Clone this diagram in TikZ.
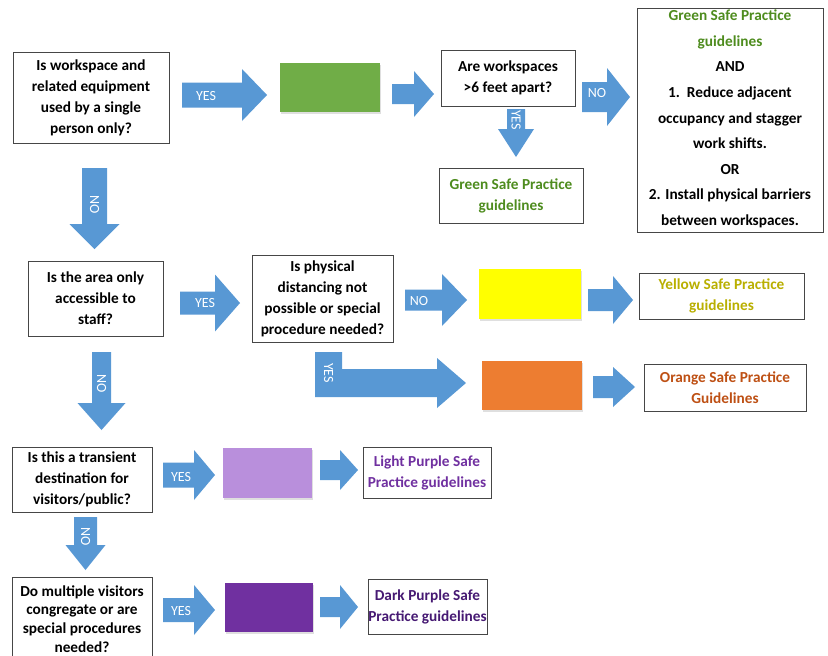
\documentclass[tikz,border=0pt]{standalone}
\usepackage{fontspec}
\setmainfont{Carlito}
\usetikzlibrary{shadows}
\definecolor{arrowblue}{RGB}{88,152,212}
\definecolor{boxline}{RGB}{70,70,70}
\definecolor{cgreen}{RGB}{112,173,71}
\definecolor{cyellow}{RGB}{255,255,0}
\definecolor{corange}{RGB}{237,125,49}
\definecolor{clpurple}{RGB}{185,143,220}
\definecolor{cdpurple}{RGB}{112,48,160}
\definecolor{tgreen}{RGB}{78,140,30}
\definecolor{tyellow}{RGB}{185,175,0}
\definecolor{torange}{RGB}{190,80,20}
\definecolor{tlpurple}{RGB}{112,48,160}
\definecolor{tdpurple}{RGB}{70,25,115}
\newcommand{\myrarrow}[6]{% x1 x2 yc bodyhalf headhalf headlen
  \fill[arrowblue] (#1,#3-#4) -- (#2-#6,#3-#4) -- (#2-#6,#3-#5) -- (#2,#3) -- (#2-#6,#3+#5) -- (#2-#6,#3+#4) -- (#1,#3+#4) -- cycle;}
\newcommand{\mydarrow}[6]{% xc y1 y2 bodyhalf headhalf headlen
  \fill[arrowblue] (#1-#4,#2) -- (#1+#4,#2) -- (#1+#4,#3-#6) -- (#1+#5,#3-#6) -- (#1,#3) -- (#1-#5,#3-#6) -- (#1-#4,#3-#6) -- cycle;}
\tikzset{
  qbox/.style={draw=boxline, line width=0.9pt, fill=white, inner sep=0pt, align=center,
    font=\fontsize{15.3}{21}\selectfont\bfseries},
  gbox/.style={draw=boxline, line width=0.9pt, fill=white, inner sep=0pt, align=center,
    font=\fontsize{15.3}{21}\selectfont\bfseries},
  crect/.style={inner sep=0pt, drop shadow={opacity=0.25, shadow xshift=1pt, shadow yshift=-1.5pt}},
  alabel/.style={text=white, font=\fontsize{14}{14}\selectfont, inner sep=0pt},
}
\begin{document}
\begin{tikzpicture}[x=1pt,y=-1pt]
\useasboundingbox (0,0) rectangle (828,656);
\clip (0,0) rectangle (828,656);
\fill[white] (0,0) rectangle (828,656);

% ---------- row 1 ----------
\node[qbox, minimum width=156pt, minimum height=91pt] (q1) at (91,97.5)
  {Is workspace and\\related equipment\\used by a single\\person only?};
\myrarrow{182}{267}{95}{12.5}{26}{25}
\node[alabel] (y1) at (206,96) {YES};
\node[crect, fill=cgreen, minimum width=100pt, minimum height=49pt] (gr) at (330,87.5) {};
\myrarrow{392}{434}{94}{10}{23}{20}
\node[qbox, minimum width=134pt, minimum height=56pt] (q2) at (508,78) {Are workspaces\\>6 feet apart?};
\mydarrow{516}{109}{157}{9}{18}{28}
\node[alabel, rotate=-90] (y2) at (516,120) {YES};
\node[gbox, text=tgreen, minimum width=144pt, minimum height=55pt] (g1) at (511,195.5) {Green Safe Practice\\guidelines};
\myrarrow{582}{630}{97}{15}{29}{23}
\node[alabel] (n2) at (597,93) {NO};
\node[draw=boxline, line width=0.9pt, fill=white, minimum width=186pt, minimum height=224pt, inner sep=0pt] (big) at (730,120) {};
\node[align=center, inner sep=0pt, font=\fontsize{15.3}{25.6}\selectfont\bfseries] (bigt) at (730,119)
  {\textcolor{tgreen}{Green Safe Practice}\\\textcolor{tgreen}{guidelines}\\AND\\1.\ \ Reduce adjacent\\occupancy and stagger\\work shifts.\\OR\\2. Install physical barriers\\between workspaces.};

% ---------- row 2 ----------
\mydarrow{94.5}{168}{249}{12.5}{25}{25}
\node[alabel, rotate=-90] (n1) at (94.5,205) {NO};
\node[qbox, minimum width=135pt, minimum height=75pt] (q3) at (95.5,298.5) {Is the area only\\accessible to\\staff?};
\myrarrow{180}{240}{303}{11.5}{28.5}{25}
\node[alabel] (y3) at (205,303) {YES};
\node[qbox, minimum width=141pt, minimum height=87pt] (q4) at (322.5,298.5)
  {Is physical\\distancing not\\possible or special\\procedure needed?};
\myrarrow{405}{467}{300}{10.5}{26}{25}
\node[alabel] (n3) at (419,301) {NO};
\node[crect, fill=cyellow, minimum width=102pt, minimum height=50pt] (ye) at (530,294) {};
\myrarrow{588}{633}{300}{11}{24}{20}
\node[gbox, text=tyellow, minimum width=165pt, minimum height=46pt] (yb) at (721.5,296) {Yellow Safe Practice\\guidelines};
% L-shaped YES arrow
\fill[arrowblue] (315,352) -- (342,352) -- (342,369) -- (437,369) -- (437,358) -- (466,383) -- (437,408) -- (437,397) -- (315,397) -- cycle;
\node[alabel, rotate=-90] (y4) at (328.5,373) {YES};
\node[crect, fill=corange, minimum width=100pt, minimum height=49pt] (or) at (532,385.5) {};
\myrarrow{593}{635}{387}{11}{20}{22}
\node[gbox, text=torange, minimum width=162pt, minimum height=47pt] (ob) at (725,387.5) {Orange Safe Practice\\Guidelines};

% ---------- row 3 ----------
\mydarrow{101.5}{352}{430}{9.5}{24}{27}
\node[alabel, rotate=-90] (n4) at (101.5,384) {NO};
\node[qbox, minimum width=140pt, minimum height=65pt] (q5) at (82,479.5) {Is this a transient\\destination for\\visitors/public?};
\myrarrow{163}{215}{475}{12.5}{25}{21}
\node[alabel] (y5) at (181,477) {YES};
\node[crect, fill=clpurple, minimum width=89pt, minimum height=50pt] (lp) at (267.5,473) {};
\myrarrow{320}{358}{470}{10}{20}{18}
\node[gbox, text=tlpurple, minimum width=128pt, minimum height=51pt] (lb) at (427,472.5) {Light Purple Safe\\Practice guidelines};

% ---------- row 4 ----------
\mydarrow{85.5}{517}{570}{11.5}{20}{25}
\node[alabel, rotate=-90] (n5) at (85.5,537) {NO};
\node[qbox, minimum width=140pt, minimum height=100pt] (q6) at (82,627) {};
\node[align=center, inner sep=0pt, font=\fontsize{15.3}{18.8}\selectfont\bfseries] (q6t) at (82,619)
  {Do multiple visitors\\congregate or are\\special procedures\\needed?};
\myrarrow{163}{215}{610}{12}{25}{21}
\node[alabel] (y6) at (181,611) {YES};
\node[crect, fill=cdpurple, minimum width=88pt, minimum height=49pt] (dp) at (269,607.5) {};
\myrarrow{320}{358}{607}{10}{22}{18}
\node[gbox, text=tdpurple, minimum width=119pt, minimum height=55pt] (db) at (427.5,606.5) {Dark Purple Safe\\Practice guidelines};
\end{tikzpicture}
\end{document}
